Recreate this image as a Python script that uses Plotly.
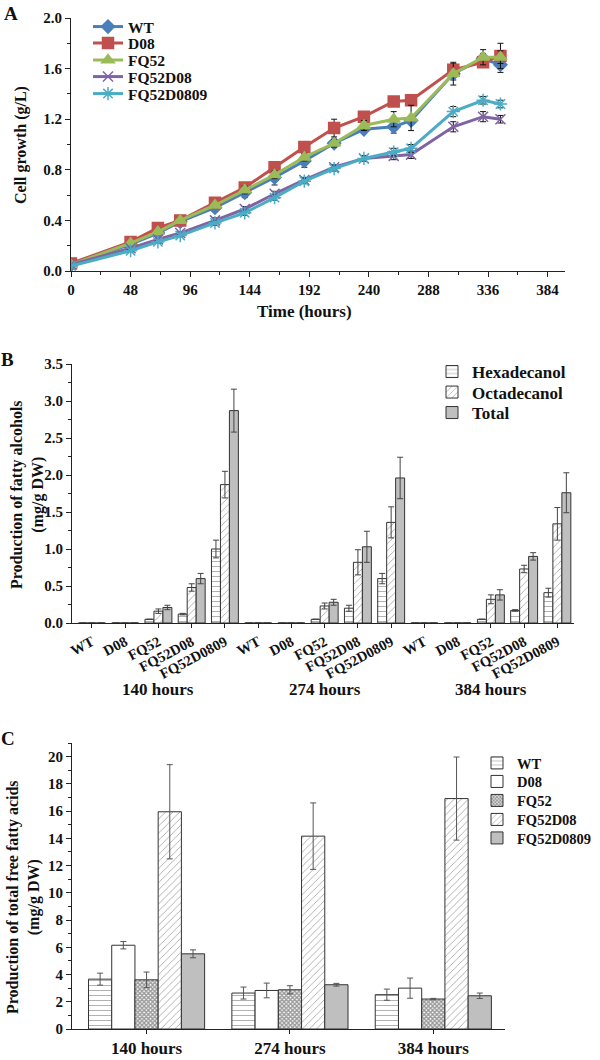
import plotly.graph_objects as go

# ---------------- Data ----------------
# Panel A: cell growth
time_h = [0, 48, 70, 88, 116, 140, 164, 188, 212, 236, 260, 274, 308, 332, 346]
growth_WT = [0.05, 0.21, 0.30, 0.39, 0.50, 0.62, 0.74, 0.87, 1.01, 1.12, 1.14, 1.19, 1.56, 1.68, 1.63]
growth_D08 = [0.06, 0.23, 0.34, 0.40, 0.54, 0.66, 0.82, 0.98, 1.13, 1.22, 1.34, 1.35, 1.59, 1.65, 1.70]
growth_FQ52 = [0.05, 0.22, 0.31, 0.40, 0.52, 0.64, 0.76, 0.90, 1.01, 1.15, 1.20, 1.21, 1.56, 1.69, 1.69]
growth_FQ52D08 = [0.05, 0.18, 0.25, 0.30, 0.40, 0.49, 0.61, 0.72, 0.82, 0.89, 0.91, 0.92, 1.14, 1.22, 1.20]
growth_FQ52D0809 = [0.04, 0.16, 0.23, 0.28, 0.38, 0.46, 0.58, 0.71, 0.81, 0.89, 0.94, 0.97, 1.26, 1.35, 1.32]
err_WT = [0.01, 0.01, 0.02, 0.02, 0.03, 0.04, 0.06, 0.05, 0.02, 0.03, 0.05, 0.03, 0.05, 0.04, 0.06]
err_D08 = [0.01, 0.01, 0.01, 0.02, 0.02, 0.02, 0.04, 0.02, 0.07, 0.02, 0.02, 0.02, 0.05, 0.03, 0.10]
err_FQ52 = [0.01, 0.01, 0.02, 0.02, 0.02, 0.03, 0.03, 0.03, 0.03, 0.04, 0.06, 0.10, 0.09, 0.06, 0.05]
err_FQ52D08 = [0.01, 0.01, 0.01, 0.01, 0.02, 0.02, 0.02, 0.02, 0.02, 0.02, 0.03, 0.03, 0.04, 0.04, 0.03]
err_FQ52D0809 = [0.01, 0.01, 0.01, 0.01, 0.02, 0.02, 0.02, 0.02, 0.02, 0.02, 0.03, 0.03, 0.04, 0.03, 0.03]

# Panel B: fatty alcohols
strains = ["WT", "D08", "FQ52", "FQ52D08", "FQ52D0809"]
times_label = ["140 hours", "274 hours", "384 hours"]
hexa = [0, 0, 0.05, 0.12, 1.00,  0, 0, 0.05, 0.20, 0.60,  0, 0, 0.05, 0.17, 0.41]
hexa_err = [0, 0, 0.0, 0.01, 0.12,  0, 0, 0.0, 0.04, 0.07,  0, 0, 0.0, 0.01, 0.06]
octa = [0, 0, 0.16, 0.48, 1.87,  0, 0, 0.23, 0.82, 1.36,  0, 0, 0.32, 0.73, 1.34]
octa_err = [0, 0, 0.03, 0.05, 0.18,  0, 0, 0.04, 0.17, 0.21,  0, 0, 0.06, 0.05, 0.22]
total = [0, 0, 0.21, 0.60, 2.87,  0, 0, 0.28, 1.03, 1.96,  0, 0, 0.38, 0.90, 1.76]
total_err = [0, 0, 0.03, 0.07, 0.29,  0, 0, 0.04, 0.21, 0.28,  0, 0, 0.07, 0.05, 0.27]

# Panel C: total free fatty acids (per strain across 3 times)
ffa = {
    "WT": [3.66, 2.64, 2.52],
    "D08": [6.15, 2.83, 3.00],
    "FQ52": [3.61, 2.88, 2.20],
    "FQ52D08": [15.95, 14.16, 16.92],
    "FQ52D0809": [5.52, 3.25, 2.44],
}
ffa_err = {
    "WT": [0.44, 0.44, 0.41],
    "D08": [0.27, 0.54, 0.74],
    "FQ52": [0.57, 0.30, 0.05],
    "FQ52D08": [3.46, 2.44, 3.05],
    "FQ52D0809": [0.29, 0.10, 0.20],
}

# ---------------- Helpers ----------------
W, H = 600, 1060
def PX(x):
    return x / W
def PY(y):
    return 1 - y / H

FONT = "Liberation Serif, Times New Roman, serif"
AX = "#222222"

fig = go.Figure()
legends = {}

def add_legend(lid, x, y, size):
    legends[lid] = dict(
        x=PX(x), xanchor="left", y=PY(y), yanchor="middle", xref="paper", yref="paper",
        bgcolor="rgba(0,0,0,0)", borderwidth=0, tracegroupgap=0,
        font=dict(family=FONT, size=size, color="#111", weight="bold"),
    )

# ---------------- Panel A ----------------
lineA = [
    ("WT", growth_WT, err_WT, "#4a7ebb", "diamond", 10, 27),
    ("D08", growth_D08, err_D08, "#c0504d", "square", 11, 43.5),
    ("FQ52", growth_FQ52, err_FQ52, "#9bbb59", "triangle-up", 11, 60.5),
    ("FQ52D08", growth_FQ52D08, err_FQ52D08, "#8064a2", "x-thin-open", 10, 77),
    ("FQ52D0809", growth_FQ52D0809, err_FQ52D0809, "#4bacc6", "asterisk-open", 11, 94),
]
lid = 2
for name, ys, es, col, sym, sz, ly in lineA:
    lg = f"legend{lid}"
    fig.add_trace(go.Scatter(
        x=time_h, y=ys, name=name, mode="lines+markers",
        line=dict(color=col, width=3),
        marker=dict(symbol=sym, size=sz, color=col, line=dict(color=col, width=1.5)),
        error_y=dict(type="data", array=es, color="#111111", thickness=1, width=3),
        xaxis="x", yaxis="y", legend=lg,
    ))
    add_legend(lg, 88, ly, 15.5)
    lid += 1

# ---------------- Panel B ----------------
xB = list(range(15))
barsB = [
    ("Hexadecanol", hexa, hexa_err, "-", "white", 372),
    ("Octadecanol", octa, octa_err, "/", "white", 392.5),
    ("Total", total, total_err, "", "#bfbfbf", 413),
]
for j, (name, ys, es, pat, bg, ly) in enumerate(barsB):
    lg = f"legend{lid}"
    fig.add_trace(go.Bar(
        x=xB, y=ys, name=name,
        marker=dict(color=bg, line=dict(color="#333", width=1),
                    pattern=dict(shape=pat, fgcolor="#333", bgcolor=bg, size=5, solidity=0.15)),
        error_y=dict(type="data", array=es, color="#444", thickness=1, width=3),
        xaxis="x2", yaxis="y2", legend=lg, offsetgroup=str(j),
    ))
    add_legend(lg, 432, ly, 17)
    lid += 1

# ---------------- Panel C ----------------
styleC = {
    "WT": ("-", "white", 5, 0.15),
    "D08": ("", "white", 5, 0.15),
    "FQ52": ("x", "white", 3, 0.7),
    "FQ52D08": ("/", "white", 5, 0.15),
    "FQ52D0809": ("", "#bfbfbf", 5, 0.15),
}
legC_y = [763, 781.5, 800.5, 819.5, 838]
for k, s in enumerate(strains):
    pat, bg, psz, sol = styleC[s]
    lg = f"legend{lid}"
    fig.add_trace(go.Bar(
        x=[0, 1, 2], y=ffa[s], name=s,
        marker=dict(color=bg, line=dict(color="#333", width=1),
                    pattern=dict(shape=pat, fgcolor="#333", bgcolor=bg, size=psz, solidity=sol)),
        error_y=dict(type="data", array=ffa_err[s], color="#555", thickness=1, width=3),
        xaxis="x3", yaxis="y3", legend=lg, offsetgroup=str(10 + k),
    ))
    add_legend(lg, 477, legC_y[k], 14.5)
    lid += 1

tickfont = dict(family=FONT, size=15, color="#111", weight="bold")
common = dict(showline=True, linecolor=AX, linewidth=1, ticks="outside", ticklen=5,
              tickcolor=AX, showgrid=False, zeroline=False, tickfont=tickfont, automargin=False)

fig.update_layout(
    width=W, height=H, margin=dict(l=0, r=0, t=0, b=0, autoexpand=False),
    paper_bgcolor="white", plot_bgcolor="white",
    font=dict(family=FONT, color="#111"),
    showlegend=True,
    barmode="group", bargap=0.19, bargroupgap=0,
    xaxis=dict(domain=[PX(71), PX(565)], range=[0, 398], anchor="y",
               tickvals=[0, 48, 96, 144, 192, 240, 288, 336, 384],
               minor=dict(dtick=24, tick0=0, ticks="outside", ticklen=3, tickcolor=AX), **common),
    yaxis=dict(domain=[PY(271), PY(18)], range=[0, 2.0], anchor="x",
               dtick=0.4, tickformat=".1f",
               minor=dict(dtick=0.2, ticks="outside", ticklen=3, tickcolor=AX), **common),
    xaxis2=dict(domain=[PX(72), PX(574)], range=[-0.6, 14.5], anchor="y2",
                tickvals=xB, ticktext=strains * 3, tickangle=-28,
                **{**common, "tickfont": dict(family=FONT, size=14.5, color="#111", weight="bold"), "ticklen": 4}),
    yaxis2=dict(domain=[PY(623), PY(364)], range=[0, 3.5], anchor="x2",
                dtick=0.5, tickformat=".1f",
                minor=dict(dtick=0.25, ticks="outside", ticklen=3, tickcolor=AX), **common),
    xaxis3=dict(domain=[PX(72), PX(505)], range=[-0.52, 2.5], anchor="y3",
                tickvals=[0, 1, 2], ticktext=times_label,
                **{**common, "tickfont": dict(family=FONT, size=17, color="#111", weight="bold"), "ticklen": 4}),
    yaxis3=dict(domain=[PY(1029), PY(743)], range=[0, 21], anchor="x3",
                dtick=2, minor=dict(dtick=1, ticks="outside", ticklen=3, tickcolor=AX), **common),
)
fig.update_layout(**legends)

ann = []
bold = lambda s: dict(family=FONT, size=s, color="#111", weight="bold")
def pann(text, x, y, size, angle=0):
    ann.append(dict(text=text, x=PX(x), y=PY(y), xref="paper", yref="paper", showarrow=False,
                    xanchor="center", yanchor="middle", textangle=angle, font=bold(size)))
# panel letters
pann("A", 11, 13, 19)
pann("B", 7, 360, 19)
pann("C", 8, 738, 19)
# axis titles
pann("Cell growth (g/L)", 21, 145, 16, -90)
pann("Time (hours)", 304, 312, 17)
pann("Production of fatty alcohols<br>(mg/g DW)", 27, 495, 16, -90)
pann("Production of total free fatty acids<br>(mg/g DW)", 23, 897, 16, -90)
# group labels panel B
for g, lab in enumerate(times_label):
    ann.append(dict(text=lab, x=2 + 5 * g, y=PY(689), xref="x2", yref="paper",
                    showarrow=False, xanchor="center", yanchor="middle", font=bold(17)))
fig.update_layout(annotations=ann)

fig.write_html(
    "out.html",
    config={"displayModeBar": False},
    post_script="document.body.style.margin='0px';document.body.style.padding='0px';",
)
